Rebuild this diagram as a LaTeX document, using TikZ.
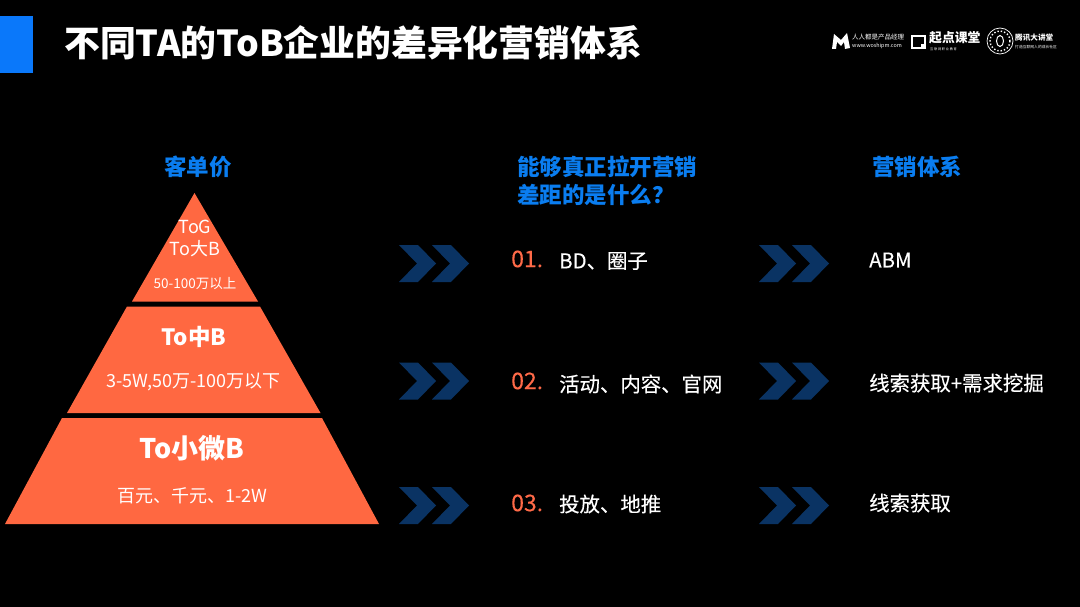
\documentclass[tikz,border=0pt]{standalone}
\usepackage{fontspec}
\setmainfont{Noto Sans CJK SC}
\newfontfamily\medcjk[FakeBold=0.25]{Noto Sans CJK SC}
\usetikzlibrary{positioning}
\definecolor{tierorange}{HTML}{FF6841}
\definecolor{headblue}{HTML}{0A7DF0}
\definecolor{barblue}{HTML}{0A78FA}
\definecolor{chevblue}{HTML}{0A3363}
\definecolor{numorange}{HTML}{FF6A48}
\tikzset{
    head/.style={text=headblue, font=\fontsize{22.5}{27.5}\selectfont\bfseries, align=left, inner sep=0pt},
    rowtext/.style={text=white, font=\fontsize{20.4}{24}\selectfont\medcjk, anchor=west, inner sep=0pt},
    rownum/.style={text=numorange, font=\fontsize{23}{26}\selectfont\medcjk, anchor=west, inner sep=0pt},
    tiername/.style={text=white, inner sep=0pt, align=center},
    tiernote/.style={text=white, inner sep=0pt},
    logotext/.style={text=white, inner sep=0pt, anchor=west}
}
\begin{document}
\begin{tikzpicture}[x=1pt, y=-1pt]
    % Background
    \fill[black] (0,0) rectangle (1080,607);
    \useasboundingbox (0,0) rectangle (1080,607);

    % Title bar
    \fill[barblue] (0,16) rectangle (33,73);
    \node[text=white, anchor=west, inner sep=0pt, font=\fontsize{35.8}{40}\selectfont\bfseries] (title) at (64,43) {不同TA的ToB企业的差异化营销体系};

    % Logos
    \fill[white] (832,49) -- (834,34) -- (841,40) -- (847,33) -- (850,48) -- (845,49) -- (844,42) -- (841,46) -- (837,42) -- (836,49) -- cycle;
    \node[logotext, font=\fontsize{6.5}{7}\selectfont] (logoa) at (852,37) {人人都是产品经理};
    \node[logotext, font=\fontsize{5.4}{7}\selectfont] (logob) at (852,46) {www.woshipm.com};
    \draw[white, line width=1.6pt] (926,48) -- (912,48) -- (912,36) -- (925,36) -- (925,44);
    \fill[white] (921,44) rectangle (926,49);
    \node[logotext, font=\fontsize{12.8}{14}\selectfont\bfseries] (logoc) at (929,38) {起点课堂};
    \node[logotext, font=\fontsize{3.2}{4}\selectfont] (logod) at (930,49) {互 联 网 职 业 教 育};
    \draw[white, line width=0.7pt] (1000,41) circle (13);
    \draw[white, line width=1.4pt, dotted] (1000,41) circle (10);
    \draw[white, line width=1pt] (1000,41) ellipse (3.5 and 5.5);
    \node[logotext, font=\fontsize{7.6}{9}\selectfont\bfseries] (logoe) at (1015,38) {腾讯大讲堂};
    \node[logotext, font=\fontsize{3.8}{5}\selectfont] (logof) at (1015,47) {打造互联网人的成长社区};

    % Column heads
    \node[head] (headprice) at (198,167) {客单价};
    \node[head, anchor=west] (headgap) at (517,181) {能够真正拉开营销\\差距的是什么？};
    \node[head] (headsys) at (917,167) {营销体系};

    % Pyramid
    \fill[tierorange] (194.5,193) -- (258,301.5) -- (132,301.5) -- cycle;
    \fill[tierorange] (127,306.5) -- (260,306.5) -- (320.5,413) -- (67,413) -- cycle;
    \fill[tierorange] (62,418) -- (322,418) -- (379,524) -- (5,524) -- cycle;

    % Tier labels
    \node[tiername, font=\fontsize{18}{22}\selectfont] (tiertop) at (195,238) {ToG\\To大B};
    \node[tiernote, font=\fontsize{13.5}{16}\selectfont] (notetop) at (195,284) {50-100万以上};
    \node[tiername, font=\fontsize{22.5}{26}\selectfont\bfseries] (tiermid) at (194,337) {To中B};
    \node[tiernote, font=\fontsize{18}{20}\selectfont] (notemid) at (193.5,382) {3-5W,50万-100万以下};
    \node[tiername, font=\fontsize{27}{30}\selectfont\bfseries] (tierlow) at (192,448) {To小微B};
    \node[tiernote, font=\fontsize{18}{20}\selectfont] (notelow) at (192.5,496) {百元、千元、1-2W};

    % Chevrons
    \foreach \y in {263.5, 381, 505.5} {
        \foreach \x in {399, 432, 759, 792} {
            \fill[chevblue] (\x,\y-18.5) -- (\x+19,\y-18.5) -- (\x+37,\y) -- (\x+19,\y+18.5) -- (\x,\y+18.5) -- (\x+18,\y) -- cycle;
        }
    }

    % Rows
    \foreach \name/\y/\ynum/\num/\what/\sys in {a/260/259/01./BD、圈子/ABM, b/383/381/02./活动、内容、官网/线索获取+需求挖掘, c/503/503/03./投放、地推/线索获取} {
        \node[rownum] (num\name) at (511,\ynum) {\num};
        \node[rowtext] (what\name) at (559,\y+1) {\what};
        \node[rowtext] (sys\name) at (869,\y) {\sys};
    }
\end{tikzpicture}
\end{document}
